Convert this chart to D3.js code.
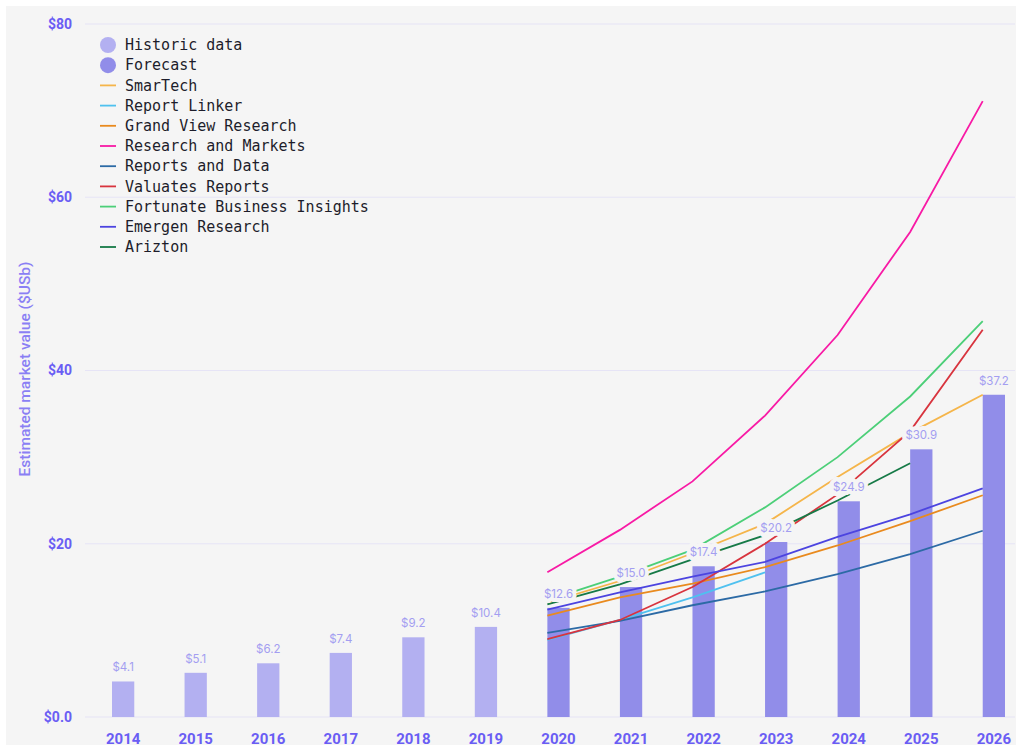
<!DOCTYPE html>
<html>
<head>
<meta charset="utf-8">
<script src="https://cdn.jsdelivr.net/npm/d3@7"></script>
<style>
  html, body { margin: 0; padding: 0; background: #ffffff; }
  svg { display: block; }
</style>
</head>
<body>
<svg id="chart" width="1020" height="749"></svg>
<script>
// ---------- DATA ----------
const years = [2014, 2015, 2016, 2017, 2018, 2019, 2020, 2021, 2022, 2023, 2024, 2025, 2026];
const barValues = [4.1, 5.1, 6.2, 7.4, 9.2, 10.4, 12.6, 15.0, 17.4, 20.2, 24.9, 30.9, 37.2];
const barLabels = ["$4.1", "$5.1", "$6.2", "$7.4", "$9.2", "$10.4", "$12.6", "$15.0", "$17.4", "$20.2", "$24.9", "$30.9", "$37.2"];
const historicYears = [2014, 2015, 2016, 2017, 2018, 2019];

const lineYears = [2020, 2021, 2022, 2023, 2024, 2025, 2026];
const smarTech = [13.2, 15.7, 18.9, 22.3, 27.7, 32.8, 37.2];
const reportLinker = [8.9, 11.2, 13.8, 16.7];
const grandViewResearch = [11.7, 13.8, 15.4, 17.3, 19.8, 22.6, 25.6];
const researchAndMarkets = [16.7, 21.6, 27.2, 34.8, 44.1, 56.0, 71.1];
const reportsAndData = [9.7, 11.1, 12.9, 14.5, 16.5, 18.8, 21.5];
const valuatesReports = [9.0, 11.2, 15.0, 20.0, 25.7, 33.0, 44.7];
const fortunateBusinessInsights = [13.5, 16.2, 19.3, 24.2, 30.0, 37.0, 45.7];
const emergenResearch = [12.4, 14.4, 16.2, 17.9, 20.8, 23.4, 26.4];
const arizton = [13.0, 15.3, 18.2, 21.0, 25.0, 29.3];

const seriesNames = ["SmarTech", "Report Linker", "Grand View Research", "Research and Markets",
  "Reports and Data", "Valuates Reports", "Fortunate Business Insights", "Emergen Research", "Arizton"];
const seriesValues = [smarTech, reportLinker, grandViewResearch, researchAndMarkets,
  reportsAndData, valuatesReports, fortunateBusinessInsights, emergenResearch, arizton];
const seriesColors = ["#f5b54a", "#4fc1ef", "#e98a1e", "#f81aa5", "#2c6aa5", "#d8343e", "#4ccf78", "#4c44e0", "#167a47"];

const yTicks = [0, 20, 40, 60, 80];
const yTickLabels = ["$0.0", "$20", "$40", "$60", "$80"];
const legendBarItems = ["Historic data", "Forecast"];
const yTitle = "Estimated market value ($USb)";

// ---------- STYLE ----------
const bg = "#f5f5f5";
const histColor = "#b3b0f1";
const foreColor = "#918de9";
const tickColor = "#6a5df4";
const gridColor = "#e6e4f6";

const svg = d3.select("#chart");

svg.append("rect").attr("x", 6).attr("y", 6).attr("width", 1010).attr("height", 739).attr("fill", bg);

const x = d3.scaleBand().domain(years).range([112, 1005]).paddingInner(0.693).paddingOuter(0);
const y = d3.scaleLinear().domain([0, 80]).range([717, 24]);

// grid
const grid = svg.append("g");
grid.selectAll("line").data(yTicks).join("line")
  .attr("x1", 85).attr("x2", 1015)
  .attr("y1", d => y(d)).attr("y2", d => y(d))
  .attr("stroke", gridColor).attr("stroke-width", 1.2);

// y axis
const yAxis = d3.axisLeft(y).tickValues(yTicks).tickSize(0).tickPadding(0)
  .tickFormat((d, i) => yTickLabels[i]);
const yg = svg.append("g").attr("transform", "translate(72,0)").call(yAxis);
yg.select(".domain").remove();
yg.selectAll("text").attr("fill", tickColor).style("font-family", "Roboto, sans-serif")
  .style("font-size", "14px").style("font-weight", "700");

// x axis
const xAxis = d3.axisBottom(x).tickSize(0).tickPadding(0);
const xg = svg.append("g").attr("transform", "translate(0,733)").call(xAxis);
xg.select(".domain").remove();
xg.selectAll("text").attr("fill", tickColor).style("font-family", "Roboto, sans-serif")
  .style("font-size", "15px").style("font-weight", "700");

// y title
svg.append("text")
  .attr("transform", "translate(30,369) rotate(-90)")
  .attr("text-anchor", "middle")
  .attr("fill", "#8a7ff4")
  .style("font-family", "Roboto, sans-serif")
  .style("font-size", "15.5px")
  .style("font-weight", "500")
  .text(yTitle);

// bars
const barData = years.map((yr, i) => ({ year: yr, value: barValues[i], label: barLabels[i] }));
svg.append("g").selectAll("rect").data(barData).join("rect")
  .attr("x", d => x(d.year))
  .attr("width", x.bandwidth())
  .attr("y", d => y(d.value))
  .attr("height", d => y(0) - y(d.value))
  .attr("fill", d => historicYears.includes(d.year) ? histColor : foreColor);

// lines
const line = d3.line().x(d => x(d[0])).y(d => y(d[1]));
const lg = svg.append("g");
seriesValues.forEach((vals, i) => {
  lg.append("path")
    .datum(vals.map((v, j) => [lineYears[j], v]))
    .attr("d", line)
    .attr("fill", "none")
    .attr("stroke", seriesColors[i])
    .attr("stroke-width", 1.8);
});

// bar labels
svg.append("g").selectAll("text").data(barData).join("text")
  .attr("x", d => x(d.year) + x.bandwidth() / 2)
  .attr("y", d => y(d.value) - 10)
  .attr("text-anchor", "middle")
  .attr("fill", "#a39ef1")
  .attr("stroke", bg).attr("stroke-width", 8).attr("paint-order", "stroke")
  .attr("stroke-linejoin", "round")
  .style("font-family", "Inter, sans-serif")
  .style("font-size", "11.5px")
  .text(d => d.label);

// legend
const legend = svg.append("g");
const rowY = i => 45 + i * 20.2;
const legendFont = "'DejaVu Sans Mono', monospace";
legendBarItems.forEach((name, i) => {
  legend.append("circle").attr("cx", 108).attr("cy", rowY(i)).attr("r", 8)
    .attr("fill", i === 0 ? histColor : foreColor);
  legend.append("text").attr("x", 125).attr("y", rowY(i)).attr("dy", "0.35em")
    .attr("fill", "#1d1d2b").style("font-family", legendFont)
    .style("font-size", "15px").text(name);
});
seriesNames.forEach((name, k) => {
  const i = k + 2;
  legend.append("line").attr("x1", 100).attr("x2", 116).attr("y1", rowY(i)).attr("y2", rowY(i))
    .attr("stroke", seriesColors[k]).attr("stroke-width", 1.8);
  legend.append("text").attr("x", 125).attr("y", rowY(i)).attr("dy", "0.35em")
    .attr("fill", "#1d1d2b").style("font-family", legendFont)
    .style("font-size", "15px").text(name);
});
</script>
</body>
</html>
